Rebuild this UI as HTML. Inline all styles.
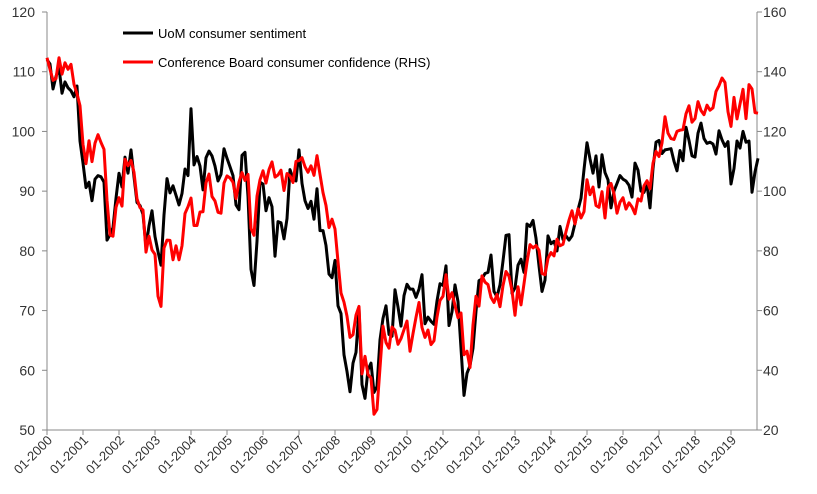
<!DOCTYPE html>
<html><head><meta charset="utf-8"><style>
body{margin:0;background:#fff}
svg{display:block;font-family:"Liberation Sans",sans-serif}
</style></head><body>
<svg id="c" width="817" height="494"></svg>
<script>
const years=["01-2000","01-2001","01-2002","01-2003","01-2004","01-2005","01-2006","01-2007","01-2008","01-2009","01-2010","01-2011","01-2012","01-2013","01-2014","01-2015","01-2016","01-2017","01-2018","01-2019"];
const leftTicks=[50,60,70,80,90,100,110,120];
const rightTicks=[20,40,60,80,100,120,140,160];
const uom=[112.0,111.3,107.1,109.2,110.7,106.4,108.3,107.3,106.8,105.8,107.6,98.4,
94.7,90.6,91.5,88.4,92.0,92.6,92.4,91.5,81.8,82.7,83.9,88.8,
93.0,90.7,95.7,93.0,96.9,92.4,88.1,87.6,86.1,80.6,84.2,86.7,
82.4,79.9,77.6,86.0,92.1,89.7,90.9,89.3,87.7,89.6,93.7,92.6,
103.8,94.4,95.8,94.2,90.2,95.6,96.7,95.9,94.2,91.7,92.8,97.1,
95.5,94.1,92.6,87.7,86.9,96.0,96.5,89.1,76.9,74.2,81.6,91.5,
91.2,86.7,88.9,87.4,79.1,84.9,84.7,82.0,85.4,93.6,92.1,91.7,
96.9,91.3,88.4,87.1,88.3,85.3,90.4,83.4,83.4,80.9,76.1,75.5,
78.4,70.8,69.5,62.6,59.8,56.4,61.2,63.0,70.3,57.6,55.3,60.1,
61.2,56.3,57.3,65.1,68.7,70.8,66.0,65.7,73.5,70.6,67.4,72.5,
74.4,73.6,73.6,72.2,73.6,76.0,67.8,68.9,68.2,67.7,71.6,74.5,
74.2,77.5,67.5,69.8,74.3,71.5,63.7,55.8,59.5,60.8,63.7,69.9,
75.0,75.3,76.2,76.4,79.3,73.2,72.3,74.3,78.3,82.6,82.7,72.9,
73.8,77.6,78.6,76.4,84.5,84.1,85.1,82.1,77.5,73.2,75.1,82.5,
81.2,81.6,80.0,84.1,81.9,82.5,81.8,82.5,84.6,86.9,88.8,93.6,
98.1,95.4,93.0,95.9,90.7,96.1,93.1,91.9,87.2,90.0,91.3,92.6,
92.0,91.7,91.0,89.0,94.7,93.5,90.0,89.8,91.2,87.2,93.8,98.2,
98.5,96.3,96.9,97.0,97.1,95.0,93.4,96.8,95.1,100.7,98.5,95.9,
95.7,99.7,101.4,98.8,98.0,98.2,97.9,96.2,100.1,98.6,97.5,98.3,
91.2,93.8,98.4,97.2,100.0,98.2,98.4,89.8,93.2,95.5];
const cb=[144.7,140.8,137.1,137.7,144.7,139.2,143.0,140.8,142.5,135.8,132.6,128.6,
115.7,109.2,116.9,109.9,116.1,118.9,116.3,114.0,97.0,85.3,84.9,94.6,
97.8,95.0,110.7,108.5,110.3,106.3,97.4,94.5,93.7,79.6,84.9,80.3,
78.8,64.8,61.4,81.0,83.6,83.5,77.0,81.7,77.0,81.7,92.5,94.8,
97.7,88.5,88.5,93.0,93.1,102.8,105.7,98.2,96.7,92.9,92.6,102.7,
105.1,104.4,103.0,97.5,103.1,106.2,103.6,105.6,87.5,85.2,98.3,103.8,
106.8,102.7,107.2,109.8,104.7,105.4,107.0,100.2,105.9,105.1,102.9,110.0,
110.2,111.2,108.2,106.3,108.5,105.3,111.9,105.6,99.5,95.2,87.8,90.6,
87.3,76.4,65.9,62.8,58.1,51.0,51.9,58.5,61.4,38.8,44.7,38.6,
37.4,25.3,26.9,40.8,54.8,49.3,47.4,54.5,53.4,48.7,50.6,53.6,
56.5,46.4,52.3,57.7,62.7,54.3,51.0,53.5,48.6,49.9,57.8,63.4,
64.8,72.0,63.8,66.0,61.7,57.6,59.2,45.2,46.4,40.9,55.2,64.8,
61.5,71.6,69.5,68.7,64.4,62.7,65.4,61.3,68.4,73.1,71.5,66.7,
58.4,68.0,61.9,69.0,76.2,82.1,81.0,81.8,80.2,72.4,72.0,77.5,
79.4,78.3,83.9,81.7,82.2,86.4,90.3,93.4,89.0,94.1,91.0,93.1,
103.8,98.8,101.4,95.2,94.6,99.8,91.0,101.3,102.6,99.1,92.6,96.3,
97.8,94.0,96.1,94.7,92.4,97.4,96.7,101.8,103.5,100.8,109.4,113.3,
111.6,116.1,124.9,119.4,117.6,117.3,120.0,120.4,120.6,125.9,128.6,123.1,
124.3,130.0,127.0,125.6,128.8,127.1,127.9,133.4,135.3,137.9,136.4,126.6,
121.7,131.4,124.2,129.2,134.1,124.3,135.7,134.2,126.3,126.1];

const svg=document.getElementById('c');
const NS='http://www.w3.org/2000/svg';
const L=47,R=757,T=12,B=430,MW=3.0;
const x=i=>L+i*MW;
const yl=v=>B-(v-50)/70*(B-T);
const yr=v=>B-(v-20)/140*(B-T);
function mk(t,a,p){const e=document.createElementNS(NS,t);for(const k in a)e.setAttribute(k,a[k]);(p||svg).appendChild(e);return e;}

let e;
e=mk('line',{x1:L,y1:T,x2:L,y2:B,stroke:'#888'});


e=mk('line',{x1:R,y1:T,x2:R,y2:B,stroke:'#888'});


e=mk('line',{x1:L,y1:B,x2:R,y2:B,stroke:'#888'});



leftTicks.forEach(v=>{
  mk('line',{x1:L-5,y1:yl(v),x2:L,y2:yl(v),stroke:'#888'});
  e=mk('text',{x:L-12,y:yl(v)+5,'text-anchor':'end','font-size':14,fill:'#333'});
  e.textContent=v;
  
  
});
rightTicks.forEach(v=>{
  mk('line',{x1:R,y1:yr(v),x2:R+5,y2:yr(v),stroke:'#888'});
  e=mk('text',{x:R+6,y:yr(v)+5,'font-size':14,fill:'#333'});
  e.textContent=v;
  
  
});
years.forEach((s,i)=>{
  const tx=x(i*12);
  mk('line',{x1:tx,y1:B,x2:tx,y2:B+5,stroke:'#888'});
  e=mk('text',{x:0,y:0,'text-anchor':'end','font-size':13,fill:'#333',transform:`translate(${tx+6},${B+11}) rotate(-45)`});
  e.textContent=s;
  
  
});
function line(arr,fy,col,name){
  const d=arr.map((v,i)=>(i?'L':'M')+x(i).toFixed(1)+','+fy(v).toFixed(1)).join('');
  const p=mk('path',{d:d,fill:'none',stroke:col,'stroke-width':3,'stroke-linejoin':'round'});
  
  
}
line(uom,yl,'#000','uom-sentiment-line');
line(cb,yr,'#f00','conference-board-line');

e=mk('line',{x1:123,y1:33,x2:153,y2:33,stroke:'#000','stroke-width':3});


e=mk('text',{x:158,y:38,'font-size':13,fill:'#000'});e.textContent='UoM consumer sentiment';


e=mk('line',{x1:123,y1:62,x2:153,y2:62,stroke:'#f00','stroke-width':3});


e=mk('text',{x:158,y:67,'font-size':13,fill:'#000'});e.textContent='Conference Board consumer confidence (RHS)';


</script>
</body></html>
